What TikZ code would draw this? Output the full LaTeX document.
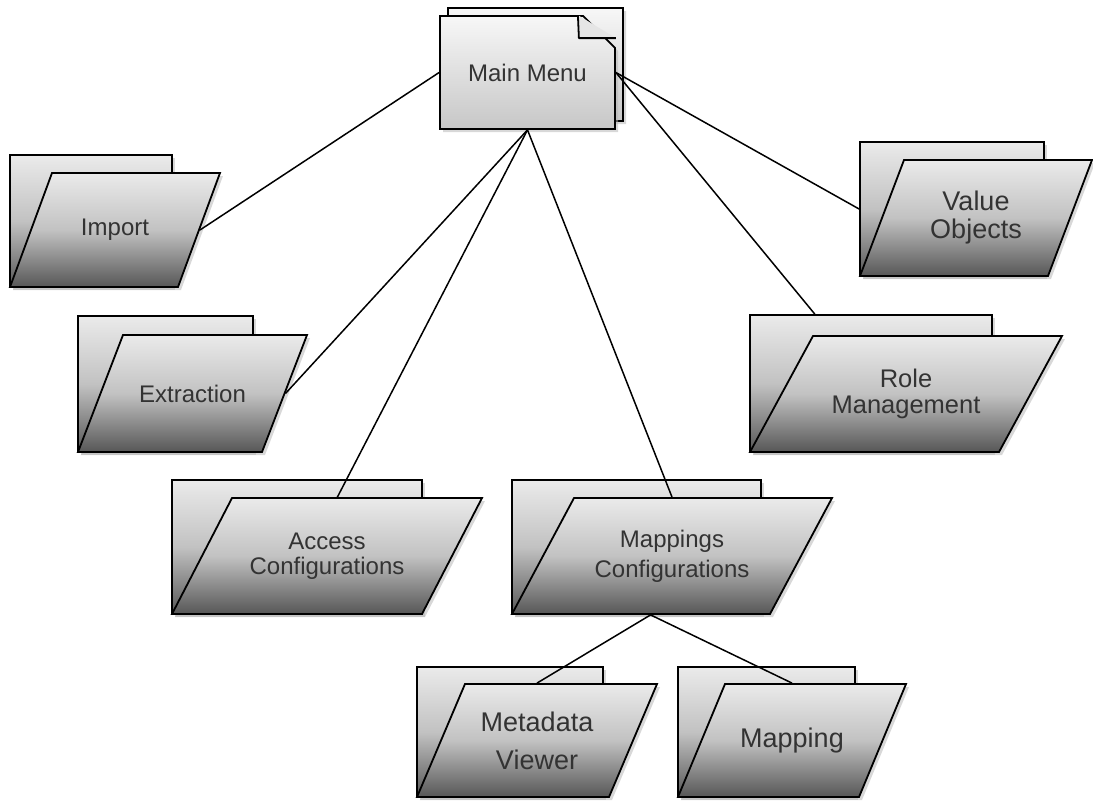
\documentclass[tikz,border=0pt]{standalone}
\usepackage{fontspec}
\setmainfont{Liberation Sans}
\usepackage{tikz}
\usetikzlibrary{shapes.geometric,shapes.misc,shadows,calc}

\begin{document}
\begin{tikzpicture}[
    x=1pt, y=-1pt,
    font=\fontsize{24}{27}\selectfont,
    shade/.style={top color=black!8, bottom color=black!66, middle color=black!24},
    tab/.style={rectangle, draw, line width=1.8pt, inner sep=0pt, shade,
        drop shadow={shadow xshift=3pt, shadow yshift=-3pt, fill=black!30}},
    % empty parallelogram: angle, half body width, half height
    folder/.style n args={3}{trapezium, trapezium left angle=#1, trapezium right angle={180-#1},
        inner xsep=#2, inner ysep=#3, minimum size=0pt, draw, line width=1.8pt, shade,
        drop shadow={shadow xshift=3pt, shadow yshift=-3pt, fill=black!30}},
    every label/.style={align=center, text=black!80},
    sheet/.style={chamfered rectangle, chamfered rectangle corners=north east,
        chamfered rectangle xsep=38pt, chamfered rectangle ysep=23pt,
        draw, line width=1.8pt, inner sep=0pt, minimum width=175pt, minimum height=113pt,
        top color=black!3, bottom color=black!22,
        drop shadow={shadow xshift=3pt, shadow yshift=-3pt, fill=black!30}},
    link/.style={line width=1.5pt}
]
    \useasboundingbox (0,0) rectangle (1093,803);

    % main menu, a small stack of sheets
    \node[sheet] (menu-back) at (535.5,64.5) {};
    \node[sheet, text=black!80] (menu) at (527.5,72.5) {Main Menu};
    \filldraw[line width=1.8pt, fill=black!10, line join=round]
        ($(menu.north -| menu.east)+(-38,0)$) -- ++(1,23) -- ($(menu.north -| menu.east)+(0,23)$);

    % folders
    \node[tab, minimum width=162pt, minimum height=132pt] (import-tab) at (91,221) {};
    \node[folder={69.78}{63pt}{57pt}, label=center:Import] (import) at (115,230) {};

    \node[tab, minimum width=175pt, minimum height=136pt] (extraction-tab) at (165.5,384) {};
    \node[folder={68.96}{69.5pt}{58.5pt}, label=center:Extraction] (extraction) at (192.5,393.5) {};

    \node[tab, minimum width=250pt, minimum height=134pt] (access-tab) at (297,547) {};
    \node[folder={62.65}{95pt}{58pt}, label={[font=\fontsize{24}{25}\selectfont]center:Access\\Configurations}] (access) at (327,556) {};

    \node[tab, minimum width=249pt, minimum height=134pt] (mappings-tab) at (636.5,547) {};
    \node[folder={61.87}{98pt}{58pt}, label={[font=\fontsize{24}{30}\selectfont]center:Mappings\\Configurations}] (mappings) at (672,556) {};

    \node[tab, minimum width=242pt, minimum height=137pt] (role-tab) at (871,383.5) {};
    \node[folder={61.5}{93pt}{58pt}, label={[font=\fontsize{25.5}{26}\selectfont]center:Role\\Management}] (role) at (906,394) {};

    \node[tab, minimum width=184pt, minimum height=134pt] (value-tab) at (952,209) {};
    \node[folder={69.23}{72pt}{58pt}, label={[font=\fontsize{27}{28}\selectfont]center:Value\\Objects}] (value) at (976,218) {};

    \node[tab, minimum width=186pt, minimum height=130pt] (metadata-tab) at (510,732) {};
    \node[folder={66.98}{72pt}{56.5pt}, label={[font=\fontsize{27}{38}\selectfont]center:Metadata\\Viewer}] (metadata) at (537,740.5) {};

    \node[tab, minimum width=177pt, minimum height=130pt] (mapping-tab) at (766.5,732) {};
    \node[folder={67.41}{67pt}{56.5pt}, label={[font=\fontsize{27}{30}\selectfont]center:Mapping}] (mapping) at (792,740.5) {};

    % links
    \draw[link] (menu.west) -- (import.right side);
    \draw[link] (menu.south) -- (extraction.right side);
    \draw[link] (menu.south) -- (access.80);
    \draw[link] (menu.south) -- (mappings.90);
    \draw[link] (menu.east) -- (role-tab.129);
    \draw[link] (menu.east) -- (value-tab.west);
    \draw[link] (mappings.250) -- (metadata.90);
    \draw[link] (mappings.250) -- (mapping.90);
\end{tikzpicture}
\end{document}
